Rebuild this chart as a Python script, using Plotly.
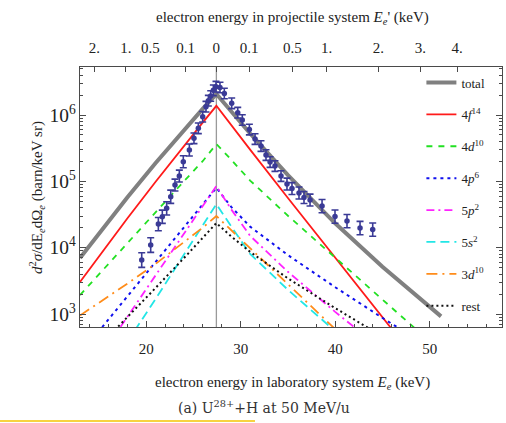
import math
import plotly.graph_objects as go

# ---------------- data ----------------
E_CUSP = 27.43            # keV, cusp position (electron at projectile velocity)
PROJ_MEV_U = 50.0         # projectile energy, MeV/u

grid_x = [13, 15, 18, 21, 24, 26, 27.43, 29, 31, 35, 40, 45, 50]
total_x = [13, 15, 18, 21, 24, 26, 27.43, 29, 31, 35, 40, 45, 50, 51.2]

total = [6970, 16370, 57150, 189500, 600000, 1249000, 2070000,
         1117000, 526000, 124000, 23300, 5150, 1280, 920]
f4_14 = [3030, 7390, 27480, 98600, 345500, 776000, 1377000,
         702000, 300800, 56000, 6970, 880, 113]
d4_10 = [1928, 3970, 11730, 34200, 100400, 203000, 365000,
         211800, 102800, 30300, 7050, 1633, 386]
p4_6 = [248, 554, 1842, 6110, 20370, 45150, 80000,
        41250, 20730, 7730, 2535, 873, 311]
p5_2 = [81, 212, 904, 3837, 16370, 42700, 84900,
        37840, 15070, 4330, 1076, 290, 80]
s5_2 = [33, 86.5, 380, 1690, 7710, 21470, 45450,
        20890, 8060, 2317, 530, 131, 33]
d3_10 = [949, 1466, 2864, 5700, 11940, 20100, 30000,
         18370, 9820, 2825, 596, 125, 26]
rest = [164, 322, 891, 2476, 6970, 14000, 23500,
        14800, 8650, 3444, 1227, 458, 177]

exp_E = [19.53, 20.48, 21.29, 21.71, 22.17, 22.60, 23.05, 23.51, 23.93, 24.57,
         25.06, 25.52, 25.98, 26.33, 26.58, 26.83, 27.11, 27.39, 27.81, 28.27,
         29.05, 29.69, 30.17, 30.92, 31.52, 32.15, 32.68, 33.11, 33.63, 34.27,
         34.90, 35.43, 36.17, 36.70, 37.34, 38.61, 39.98, 41.25, 42.63, 43.97]
exp_val = [6500, 10940, 22700, 29240, 39160, 58600, 87900, 120200, 197500, 296600,
           445300, 630000, 942000, 1334000, 1643000, 1935000, 2357000, 2672000, 2600000, 2110000,
           1500000, 1083000, 841000, 604000, 434500, 340700, 249300, 195400, 170200, 120200,
           91000, 77850, 66640, 57000, 52240, 42400, 29450, 25190, 19760, 18750]
exp_err_dex = [0.11, 0.11, 0.10, 0.10, 0.10, 0.10, 0.09, 0.09, 0.09, 0.09,
               0.08, 0.08, 0.08, 0.08, 0.08, 0.08, 0.08, 0.08, 0.08, 0.08,
               0.08, 0.08, 0.08, 0.08, 0.08, 0.08, 0.08, 0.08, 0.08, 0.08,
               0.09, 0.09, 0.09, 0.09, 0.09, 0.10, 0.10, 0.10, 0.10, 0.10]

top_tick_Ep = [2, 1, 0.5, 0.1, 0, 0.1, 0.5, 1, 2, 3, 4]
top_tick_side = [-1, -1, -1, -1, 0, 1, 1, 1, 1, 1, 1]
top_tick_text = ["2.", "1.", "0.5", "0.1", "0", "0.1", "0.5", "1.", "2.", "3.", "4."]

# ---------------- helpers ----------------
ME = 511.0
gamma = 1 + PROJ_MEV_U / 931.494
beta = math.sqrt(1 - 1 / gamma ** 2)


def lab_energy(ep, sign):
    pc = math.sqrt(ep ** 2 + 2 * ME * ep)
    return gamma * (ME + ep + sign * beta * pc) - ME


top_tick_vals = [lab_energy(e, s) for e, s in zip(top_tick_Ep, top_tick_side)]

err_up = [v * (10 ** d - 1) for v, d in zip(exp_val, exp_err_dex)]
err_dn = [v * (1 - 10 ** (-d)) for v, d in zip(exp_val, exp_err_dex)]

FONT = "Liberation Serif"
XR = [13.0, 57.65]

fig = go.Figure()

curves = [
    ("total", total_x, total, dict(color="#808080", width=4, dash="solid")),
    ("4<i>f</i><sup>14</sup>", grid_x, f4_14, dict(color="#ff1a1a", width=1.8, dash="solid")),
    ("4<i>d</i><sup>10</sup>", grid_x, d4_10, dict(color="#22e022", width=1.8, dash="6px,6px")),
    ("4<i>p</i><sup>6</sup>", grid_x, p4_6, dict(color="#1010ee", width=2, dash="3px,4px")),
    ("5<i>p</i><sup>2</sup>", grid_x, p5_2, dict(color="#ff22ff", width=1.8, dash="8px,4px,2px,4px")),
    ("5<i>s</i><sup>2</sup>", grid_x, s5_2, dict(color="#22e6e6", width=1.8, dash="9px,5px")),
    ("3<i>d</i><sup>10</sup>", grid_x, d3_10, dict(color="#ff8c1a", width=1.8, dash="11px,5px,2px,5px")),
    ("rest", grid_x, rest, dict(color="#111111", width=2, dash="2px,3px")),
]

for i, (name, xs, ys, ln) in enumerate(curves):
    fig.add_trace(go.Scatter(x=xs, y=ys, mode="lines", name=name, line=ln,
                             legendgroup=f"g{i}", hoverinfo="skip"))

fig.add_trace(go.Scatter(
    x=exp_E, y=exp_val, mode="markers", showlegend=False,
    marker=dict(color="#3a3a96", size=5.5),
    error_y=dict(type="data", symmetric=False, array=err_up, arrayminus=err_dn,
                 color="#3a3a96", thickness=1.6, width=3.5),
))

# invisible trace to attach the top axis
fig.add_trace(go.Scatter(x=[E_CUSP], y=[1e4], xaxis="x2", mode="markers",
                         marker=dict(opacity=0), showlegend=False, hoverinfo="skip"))

fig.add_vline(x=E_CUSP, line=dict(color="#9a9a9a", width=1.3), layer="below")

axis_line = "#4a4a4a"
fig.update_layout(
    width=506, height=423,
    margin=dict(l=80, r=4, t=67, b=96),
    paper_bgcolor="white", plot_bgcolor="white",
    font=dict(family=FONT, size=15, color="#222"),
    xaxis=dict(range=XR, tickvals=[20, 30, 40, 50], ticks="inside", ticklen=6,
               tickcolor=axis_line, showline=True, linecolor=axis_line, linewidth=1.2,
               mirror=True, showgrid=False, zeroline=False, ticklabelstandoff=8,
               tickfont=dict(family=FONT, size=15),
               minor=dict(dtick=2, tick0=0, ticks="inside", ticklen=3, tickcolor=axis_line)),
    xaxis2=dict(range=XR, overlaying="x", side="top", anchor="y",
                tickvals=top_tick_vals, ticktext=top_tick_text, ticks="inside", ticklen=5,
                tickcolor=axis_line, showline=False, showgrid=False, zeroline=False,
                ticklabelstandoff=10,
                tickfont=dict(family=FONT, size=15)),
    yaxis=dict(type="log", range=[2.804, 6.724], dtick=1, exponentformat="power",
               ticks="inside", ticklen=6, tickcolor=axis_line, showline=True,
               linecolor=axis_line, linewidth=1.2, mirror="ticks", showgrid=False,
               zeroline=False, tickfont=dict(family=FONT, size=15.5),
               minor=dict(ticks="inside", ticklen=3, tickcolor=axis_line, dtick="D1")),
    legend=dict(x=0.809, xanchor="left", y=0.998, yanchor="top",
                bgcolor="rgba(0,0,0,0)", font=dict(family=FONT, size=13, color="#222"),
                tracegroupgap=12, itemwidth=30),
    showlegend=True,
)

fig.add_annotation(text="electron energy in projectile system <i>E<sub>e</sub></i>' (keV)",
                   xref="paper", yref="paper", x=0.503, y=1.0, yshift=49,
                   showarrow=False, yanchor="middle",
                   font=dict(family=FONT, size=15, color="#222"))
fig.add_annotation(text="electron energy in laboratory system <i>E<sub>e</sub></i> (keV)",
                   xref="paper", yref="paper", x=0.503, y=0.0, yshift=-56,
                   showarrow=False, yanchor="middle",
                   font=dict(family=FONT, size=15, color="#222"))
fig.add_annotation(text="<i>d</i><sup>2</sup><i>σ</i>/dE<sub><i>e</i></sub>dΩ<sub><i>e</i></sub> (barn/keV sr)",
                   xref="paper", yref="paper", x=-0.102, y=0.5, textangle=-90,
                   showarrow=False, xanchor="center", yanchor="middle",
                   font=dict(family=FONT, size=15, color="#222"))
fig.add_annotation(text="(a) U<sup>28+</sup>+H at 50 MeV/u",
                   xref="paper", yref="paper", x=0.437, y=0.0, yshift=-80,
                   showarrow=False, yanchor="middle",
                   font=dict(family="DejaVu Serif", size=14, color="#333"))
fig.add_shape(type="line", xref="paper", yref="paper", x0=-0.1896, x1=0.4147,
              y0=-0.3615, y1=-0.3615, line=dict(color="#f5c400", width=1.5))

fig.write_html("out.html", config={"displayModeBar": False, "staticPlot": True},
               post_script="document.body.style.margin='0';document.body.style.overflow='hidden';")
